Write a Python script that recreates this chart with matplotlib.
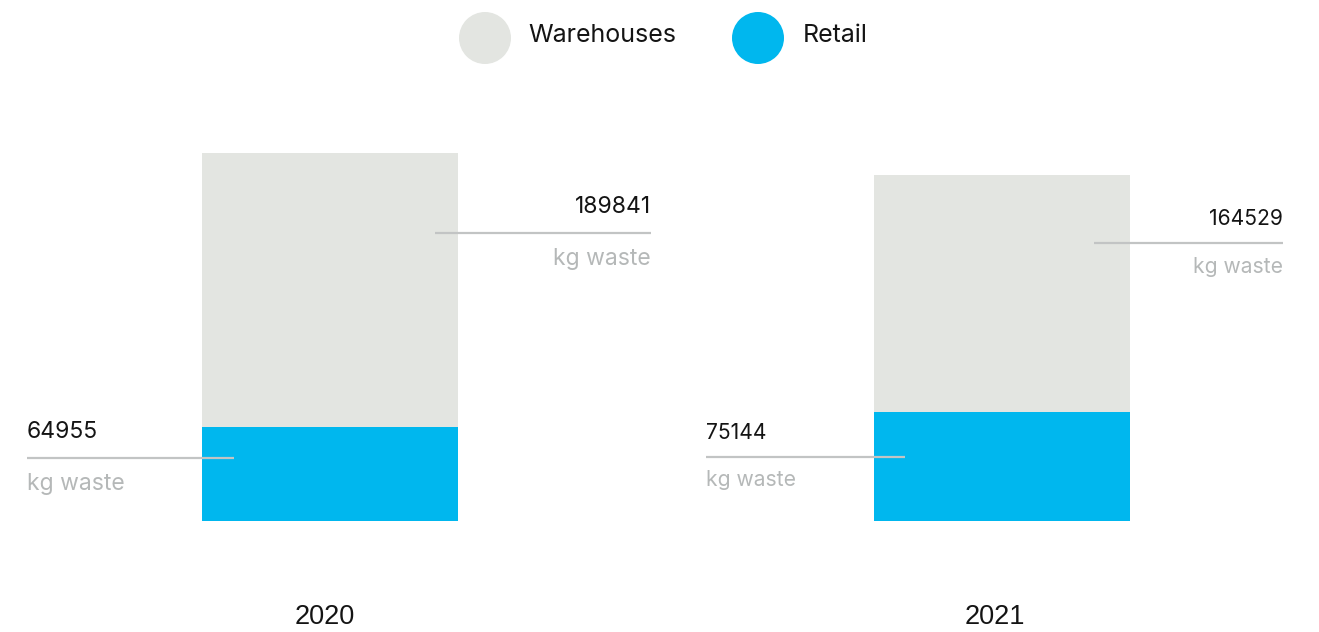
import matplotlib
matplotlib.use("Agg")
import matplotlib.pyplot as plt
from matplotlib.patches import Circle

years = ["2020", "2021"]
series = ["Warehouses", "Retail"]
retail = [64955, 75144]
warehouses = [189841, 164529]
unit_label = "kg waste"

GRAY = "#E3E5E1"
BLUE = "#00B7EE"
DARK = "#141414"
LIGHT = "#B5B8B8"
LINE = "#C2C4C4"

W, H = 1319, 632
fig = plt.figure(figsize=(W / 100, H / 100), dpi=100)
plt.rcParams['font.family'] = ['Inter', 'DejaVu Sans']

base_px = 521
top_px = 100
ax = fig.add_axes([0, (H - base_px) / H, 1, (base_px - top_px) / H])
kg_per_px = 692.0
ax.set_ylim(0, (base_px - top_px) * kg_per_px)
c0, c1 = 330.0, 1001.5
unit = c1 - c0
ax.set_xlim(-c0 / unit, (W - c0) / unit)
ax.axis("off")

bw = 256 / unit
xs = list(range(len(years)))
ax.bar(xs, retail, width=bw, color=BLUE, linewidth=0)
ax.bar(xs, warehouses, width=bw, bottom=retail, color=GRAY, linewidth=0)

def px(x):
    return (x - c0) / unit

wh_layout = [(435, 651, 0.708, 1.0), (1094, 1283, 0.7125, 0.92)]
rt_layout = [(27, 234, 0.671, 1.0), (706, 905, 0.589, 0.92)]
year_dx = [-3.6, -5.0]

num_fs = 16.5
unit_fs = 16.5

for i in xs:
    x0, x1, frac, s = wh_layout[i]
    yv = retail[i] + warehouses[i] * frac
    ax.plot([px(x0), px(x1)], [yv, yv], color=LINE, lw=1.6, solid_capstyle="butt")
    ax.annotate(f"{warehouses[i]}", (px(x1), yv), xytext=(0, 11 * s), textcoords="offset points",
                ha="right", va="bottom", fontsize=num_fs * s, color=DARK)
    ax.annotate(unit_label, (px(x1), yv), xytext=(0, -11 * s), textcoords="offset points",
                ha="right", va="top", fontsize=unit_fs * s, color=LIGHT)
    x0, x1, frac, s = rt_layout[i]
    yv = retail[i] * frac
    ax.plot([px(x0), px(x1)], [yv, yv], color=LINE, lw=1.6, solid_capstyle="butt")
    ax.annotate(f"{retail[i]}", (px(x0), yv), xytext=(0, 11 * s), textcoords="offset points",
                ha="left", va="bottom", fontsize=num_fs * s, color=DARK)
    ax.annotate(unit_label, (px(x0), yv), xytext=(0, -10.5 * s), textcoords="offset points",
                ha="left", va="top", fontsize=unit_fs * s, color=LIGHT)
    ax.annotate(years[i], (i, 0), xytext=(year_dx[i], -96 * 0.72), textcoords="offset points",
                ha="center", va="center", fontsize=19.5, color=DARK,
                family=["Liberation Sans Narrow", "Liberation Sans", "DejaVu Sans"])

lax = fig.add_axes([0, 0, 1, 1])
lax.set_xlim(0, W)
lax.set_ylim(H, 0)
lax.axis("off")
legend_items = [(485, 528, GRAY), (758, 803, BLUE)]
for (cx, tx, col), name in zip(legend_items, series):
    lax.add_patch(Circle((cx, 38), 26, color=col, lw=0))
    lax.text(tx, 36, name, ha="left", va="center", fontsize=18, color=DARK)

fig.savefig("out.png", dpi=100)
